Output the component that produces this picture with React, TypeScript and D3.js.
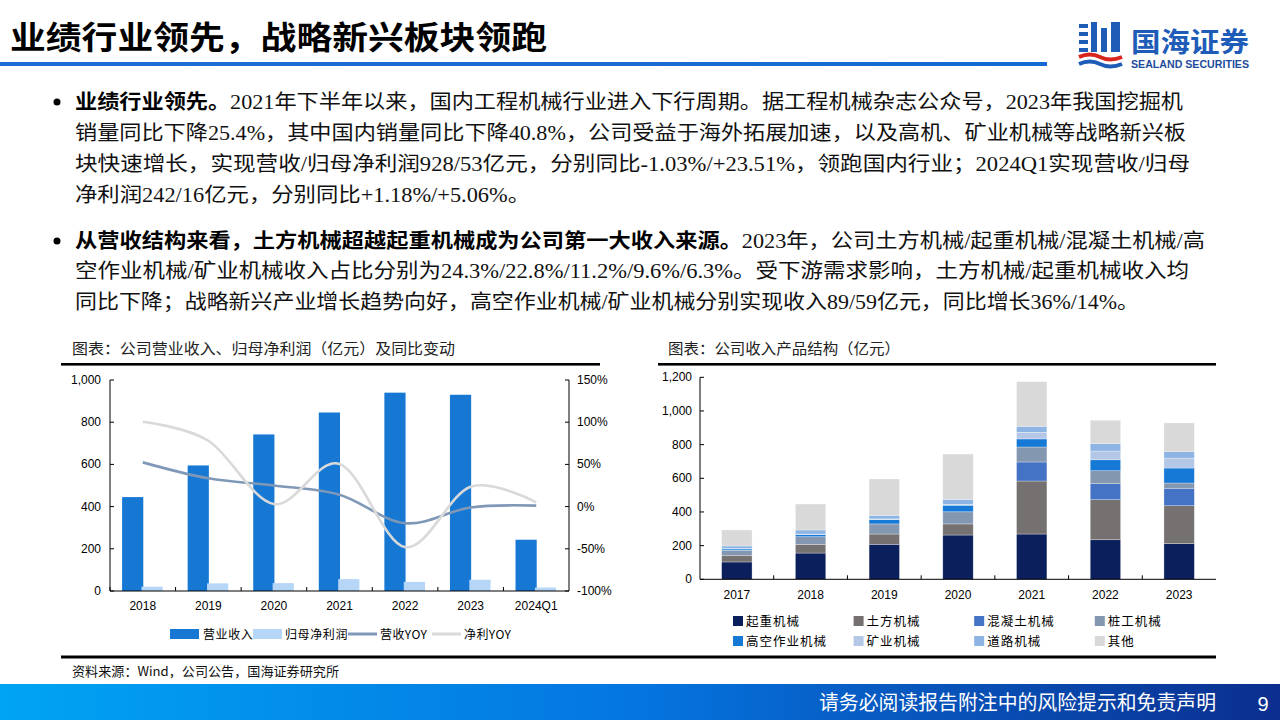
import React from 'react';
import * as d3 from 'd3';

// ---------- Left chart data ----------
const years = ['2018', '2019', '2020', '2021', '2022', '2023', '2024Q1'];
const revenue = [445, 595, 742, 846, 940, 930, 243];
const netProfit = [20.5, 36.2, 37.3, 56.2, 43.1, 53.3, 16.4];
const revenueYoy = [52.4, 33.5, 24.9, 14.0, -19.7, -1.03, 1.18];
const profitYoy = [100.5, 78, 3, 50.6, -48, 23.51, 5.06];
const leftTicks = [0, 200, 400, 600, 800, 1000];
const rightTicks = [-100, -50, 0, 50, 100, 150];
const leftLegend = ['营业收入', '归母净利润', '营收YOY', '净利YOY'];

// ---------- Right chart data ----------
const structYears = ['2017', '2018', '2019', '2020', '2021', '2022', '2023'];
const crane = [103, 156, 208, 263, 269, 235, 212];
const earth = [37, 52, 61, 66, 315, 238, 225];
const concrete = [0, 0, 0, 0, 113, 95, 104];
const pile = [32, 45, 60, 72, 89, 77, 31];
const aerial = [8, 12, 25, 39, 48, 65, 89];
const mining = [3, 4, 5, 5, 39, 52, 59];
const road = [15, 24, 21, 30, 36, 44, 39];
const others = [95, 154, 216, 269, 265, 139, 170];
const structNames = ['起重机械', '土方机械', '混凝土机械', '桩工机械', '高空作业机械', '矿业机械', '道路机械', '其他'];
const structColors = ['#0B1F5C', '#767171', '#4472C4', '#8497B0', '#1679D6', '#B4C7E7', '#8DB4E2', '#D9D9D9'];
const structTicks = [0, 200, 400, 600, 800, 1000, 1200];

// ---------- Text ----------
const title = '业绩行业领先，战略新兴板块领跑';
const para1Bold = '业绩行业领先。';
const para1Lines = [
  '2021年下半年以来，国内工程机械行业进入下行周期。据工程机械杂志公众号，2023年我国挖掘机',
  '销量同比下降25.4%，其中国内销量同比下降40.8%，公司受益于海外拓展加速，以及高机、矿业机械等战略新兴板',
  '块快速增长，实现营收/归母净利润928/53亿元，分别同比-1.03%/+23.51%，领跑国内行业；2024Q1实现营收/归母',
  '净利润242/16亿元，分别同比+1.18%/+5.06%。',
];
const para2Bold = '从营收结构来看，土方机械超越起重机械成为公司第一大收入来源。';
const para2Lines = [
  '2023年，公司土方机械/起重机械/混凝土机械/高',
  '空作业机械/矿业机械收入占比分别为24.3%/22.8%/11.2%/9.6%/6.3%。受下游需求影响，土方机械/起重机械收入均',
  '同比下降；战略新兴产业增长趋势向好，高空作业机械/矿业机械分别实现收入89/59亿元，同比增长36%/14%。',
];
const leftTitle = '图表：公司营业收入、归母净利润（亿元）及同比变动';
const rightTitle = '图表：公司收入产品结构（亿元）';
const source = '资料来源：Wind，公司公告，国海证券研究所';
const footer = '请务必阅读报告附注中的风险提示和免责声明';
const pageNo = '9';

const SANS = "'Liberation Sans', Arial, 'Noto Sans CJK SC', sans-serif";
const CJK = "'Noto Sans CJK SC', sans-serif";
const BODY = "'Liberation Serif', 'Noto Sans CJK SC', serif";

export default function App() {
  // left chart scales
  const lx = d3.scaleBand<string>().domain(years).range([110, 569]);
  const ly = d3.scaleLinear().domain([0, 1000]).range([591, 380]);
  const ry = d3.scaleLinear().domain([-100, 150]).range([591, 380]);
  const cx = (y: string) => (lx(y) as number) + lx.bandwidth() / 2;
  const lineGen = d3
    .line<number>()
    .x((_, i) => cx(years[i]))
    .y((d) => ry(d))
    .curve(d3.curveCatmullRom.alpha(0));
  const fmt = d3.format(',');

  // right chart scales
  const sx = d3.scaleBand<string>().domain(structYears).range([700, 1216]);
  const sy = d3.scaleLinear().domain([0, 1200]).range([579.3, 377.3]);
  const series = [crane, earth, concrete, pile, aerial, mining, road, others];
  const rows = structYears.map((y, i) => {
    const r: any = { year: y };
    structNames.forEach((n, k) => (r[n] = series[k][i]));
    return r;
  });
  const stacked = d3.stack<any>().keys(structNames)(rows);
  const barW = 30.4;

  const leftLegendX = [170, 253, 348, 432];

  return (
    <div style={{ position: 'fixed', left: 0, top: 0 }}>
      <svg width={1280} height={720} viewBox="0 0 1280 720" style={{ display: 'block', background: '#fff' }}>
        <defs>
          <linearGradient id="foot" x1="0" x2="1" y1="0" y2="0">
            <stop offset="0" stopColor="#00A4F4" />
            <stop offset="0.5" stopColor="#0575E0" />
            <stop offset="1" stopColor="#0B2E8F" />
          </linearGradient>
          <linearGradient id="topline" x1="0" x2="1" y1="0" y2="0">
            <stop offset="0" stopColor="#1F6FD6" />
            <stop offset="1" stopColor="#1668D2" />
          </linearGradient>
        </defs>

        {/* Header */}
        <text x={10} y={49} fontFamily={CJK} fontWeight={700} fontSize={32} fill="#000" textLength={537} lengthAdjust="spacingAndGlyphs">
          {title}
        </text>
        <rect x={0} y={62} width={1047} height={4} fill="url(#topline)" />

        {/* Logo */}
        <g>
          <rect x={1079} y={24} width={9} height={4} fill="#1E5CB8" />
          <rect x={1079} y={32} width={9} height={4} fill="#1E5CB8" />
          <rect x={1079} y={40} width={9} height={4} fill="#1E5CB8" />
          <rect x={1079} y={48} width={9} height={4} fill="#1E5CB8" />
          <rect x={1091} y={22} width={6} height={30} fill="#1E5CB8" />
          <rect x={1101} y={28} width={6} height={24} fill="#1E5CB8" />
          <rect x={1111} y={22} width={9} height={30} fill="#1E5CB8" />
          <path d="M1079,57 Q1090,52 1100,57 T1122,57" stroke="#D8261E" strokeWidth={4} fill="none" />
          <path d="M1079,64 Q1090,59 1100,64 T1122,64" stroke="#1E5CB8" strokeWidth={4} fill="none" />
          <text x={1131} y={52} fontFamily={CJK} fontWeight={700} fontSize={27} fill="#1E5CB8" textLength={118} lengthAdjust="spacingAndGlyphs">
            国海证券
          </text>
          <text x={1131} y={68} fontFamily={SANS} fontWeight={700} fontSize={10} fill="#1E4C9C" textLength={118} lengthAdjust="spacingAndGlyphs">
            SEALAND SECURITIES
          </text>
        </g>

        {/* Body text */}
        <circle cx={57} cy={102} r={3.5} fill="#000" />
        <text x={75} y={109} fontFamily={BODY} fontSize={20} fill="#111" textLength={1108} lengthAdjust="spacingAndGlyphs">
          <tspan fontFamily={CJK} fontWeight={700} fill="#000">{para1Bold}</tspan>
          <tspan>{para1Lines[0]}</tspan>
        </text>
        <text x={75} y={140} fontFamily={BODY} fontSize={20} fill="#111" textLength={1111} lengthAdjust="spacingAndGlyphs">
          {para1Lines[1]}
        </text>
        <text x={75} y={171} fontFamily={BODY} fontSize={20} fill="#111" textLength={1115} lengthAdjust="spacingAndGlyphs">
          {para1Lines[2]}
        </text>
        <text x={75} y={202} fontFamily={BODY} fontSize={20} fill="#111" textLength={455} lengthAdjust="spacingAndGlyphs">
          {para1Lines[3]}
        </text>

        <circle cx={57} cy={241} r={3.5} fill="#000" />
        <text x={75} y={248} fontFamily={BODY} fontSize={20} fill="#111" textLength={1130} lengthAdjust="spacingAndGlyphs">
          <tspan fontFamily={CJK} fontWeight={700} fill="#000">{para2Bold}</tspan>
          <tspan>{para2Lines[0]}</tspan>
        </text>
        <text x={75} y={278} fontFamily={BODY} fontSize={20} fill="#111" textLength={1114} lengthAdjust="spacingAndGlyphs">
          {para2Lines[1]}
        </text>
        <text x={75} y={309} fontFamily={BODY} fontSize={20} fill="#111" textLength={1064} lengthAdjust="spacingAndGlyphs">
          {para2Lines[2]}
        </text>

        {/* Chart titles */}
        <text x={72} y={354} fontFamily={CJK} fontSize={15} fill="#222" textLength={383} lengthAdjust="spacingAndGlyphs">
          {leftTitle}
        </text>
        <rect x={61} y={363} width={539} height={2.6} fill="#000" />
        <text x={668} y={354} fontFamily={CJK} fontSize={15} fill="#222" textLength={232} lengthAdjust="spacingAndGlyphs">
          {rightTitle}
        </text>
        <rect x={658} y={363} width={558} height={2.6} fill="#000" />

        {/* ---------- Left chart ---------- */}
        <g>
          {years.map((y, i) => (
            <rect key={'r' + y} x={cx(y) - 20.7} y={ly(revenue[i])} width={21.2} height={ly(0) - ly(revenue[i])} fill="#1778D4" />
          ))}
          {years.map((y, i) => (
            <rect key={'p' + y} x={cx(y) - 1.3} y={ly(netProfit[i])} width={21.2} height={ly(0) - ly(netProfit[i])} fill="#B6D6F7" />
          ))}
          <path d={lineGen(revenueYoy) as string} fill="none" stroke="#8098B8" strokeWidth={2.6} />
          <path d={lineGen(profitYoy) as string} fill="none" stroke="#D9D9D9" strokeWidth={2.6} />

          {/* axes */}
          <line x1={110} x2={110} y1={380} y2={591} stroke="#000" strokeWidth={1} />
          <line x1={569} x2={569} y1={380} y2={591} stroke="#000" strokeWidth={1} />
          <line x1={110} x2={569} y1={591} y2={591} stroke="#000" strokeWidth={1} />
          {leftTicks.map((t) => (
            <g key={'lt' + t}>
              <line x1={110} x2={114} y1={ly(t)} y2={ly(t)} stroke="#000" />
              <text x={101} y={ly(t) + 4} textAnchor="end" fontFamily={SANS} fontSize={12} fill="#000">
                {fmt(t)}
              </text>
            </g>
          ))}
          {rightTicks.map((t) => (
            <g key={'rt' + t}>
              <line x1={565} x2={569} y1={ry(t)} y2={ry(t)} stroke="#000" />
              <text x={577} y={ry(t) + 4} fontFamily={SANS} fontSize={12} fill="#000">
                {t + '%'}
              </text>
            </g>
          ))}
          {years.map((y) => (
            <g key={'lx' + y}>
              <line x1={lx(y) as number} x2={lx(y) as number} y1={587} y2={591} stroke="#000" />
              <text x={cx(y)} y={610} textAnchor="middle" fontFamily={SANS} fontSize={12} fill="#000">
                {y}
              </text>
            </g>
          ))}

          {/* legend */}
          <rect x={leftLegendX[0]} y={629} width={29} height={10} fill="#1778D4" />
          <text x={leftLegendX[0] + 33} y={638.5} fontFamily={CJK} fontSize={12} fill="#000" letterSpacing={0.6}>{leftLegend[0]}</text>
          <rect x={leftLegendX[1]} y={629} width={29} height={10} fill="#B6D6F7" />
          <text x={leftLegendX[1] + 32} y={638.5} fontFamily={CJK} fontSize={12} fill="#000" letterSpacing={0.6}>{leftLegend[1]}</text>
          <line x1={leftLegendX[2]} x2={leftLegendX[2] + 29} y1={634} y2={634} stroke="#8098B8" strokeWidth={3} />
          <text x={leftLegendX[2] + 32} y={638.5} fontFamily={CJK} fontSize={12} fill="#000" letterSpacing={0.4}>{leftLegend[2]}</text>
          <line x1={leftLegendX[3]} x2={leftLegendX[3] + 29} y1={634} y2={634} stroke="#D9D9D9" strokeWidth={3} />
          <text x={leftLegendX[3] + 32} y={638.5} fontFamily={CJK} fontSize={12} fill="#000" letterSpacing={0.4}>{leftLegend[3]}</text>
        </g>

        {/* ---------- Right chart ---------- */}
        <g>
          {stacked.map((s, k) =>
            s.map((d, i) =>
              d[1] - d[0] > 0 ? (
                <rect
                  key={k + '-' + i}
                  x={(sx(structYears[i]) as number) + sx.bandwidth() / 2 - barW / 2}
                  y={sy(d[1])}
                  width={barW}
                  height={sy(d[0]) - sy(d[1])}
                  fill={structColors[k]}
                  stroke="#fff"
                  strokeOpacity={0.5}
                  strokeWidth={0.6}
                />
              ) : null
            )
          )}
          <line x1={700} x2={700} y1={377.3} y2={579.3} stroke="#000" />
          <line x1={700} x2={1216} y1={579.3} y2={579.3} stroke="#000" />
          {structTicks.map((t) => (
            <g key={'st' + t}>
              <line x1={700} x2={704} y1={sy(t)} y2={sy(t)} stroke="#000" />
              <text x={692} y={sy(t) + 4} textAnchor="end" fontFamily={SANS} fontSize={12} fill="#000">
                {fmt(t)}
              </text>
            </g>
          ))}
          {structYears.map((y, i) => (
            <g key={'sx' + y}>
              {i > 0 ? <line x1={sx(y) as number} x2={sx(y) as number} y1={575.3} y2={579.3} stroke="#000" /> : null}
              <text x={(sx(y) as number) + sx.bandwidth() / 2} y={599} textAnchor="middle" fontFamily={SANS} fontSize={12} fill="#000">
                {y}
              </text>
            </g>
          ))}
          {structNames.map((n, k) => {
            const col = k % 4;
            const row = Math.floor(k / 4);
            const x = 733 + col * 120.6;
            const y = 616 + row * 20;
            return (
              <g key={'sl' + n}>
                <rect x={x} y={y} width={10} height={10} fill={structColors[k]} />
                <text x={x + 13} y={y + 9.5} fontFamily={CJK} fontSize={12.5} fill="#000" letterSpacing={1}>
                  {n}
                </text>
              </g>
            );
          })}
        </g>

        {/* Bottom */}
        <rect x={61} y={655.5} width={1155} height={3} fill="#000" />
        <text x={72} y={676} fontFamily={CJK} fontSize={13} fill="#111" textLength={267} lengthAdjust="spacingAndGlyphs">
          {source}
        </text>
        <rect x={0} y={684} width={1280} height={36} fill="url(#foot)" />
        <text x={819} y={710} fontFamily={CJK} fontSize={20} fill="#fff" textLength={397} lengthAdjust="spacingAndGlyphs">
          {footer}
        </text>
        <text x={1263} y={711} textAnchor="middle" fontFamily={SANS} fontSize={20} fill="#fff">
          {pageNo}
        </text>
      </svg>
    </div>
  );
}
